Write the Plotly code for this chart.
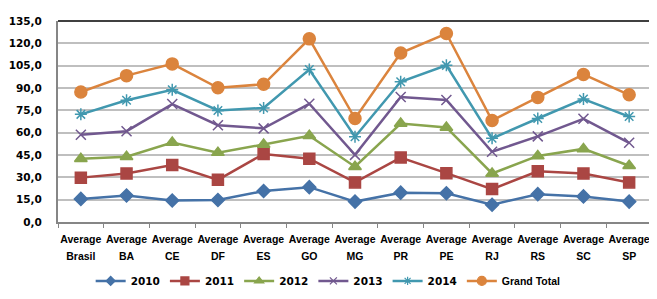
import plotly.graph_objects as go

categories = ["Average Brasil", "Average BA", "Average CE", "Average DF", "Average ES",
              "Average GO", "Average MG", "Average PR", "Average PE", "Average RJ",
              "Average RS", "Average SC", "Average SP"]

s2010 = [15.5, 17.8, 14.4, 14.8, 20.8, 23.4, 13.7, 19.7, 19.3, 11.6, 18.7, 17.2, 13.7]
s2011 = [29.8, 32.6, 38.2, 28.3, 45.7, 42.5, 26.6, 43.3, 32.8, 22.1, 34.1, 32.6, 26.6]
s2012 = [42.5, 43.8, 53.4, 46.6, 52.1, 57.9, 37.1, 66.1, 63.5, 32.6, 44.4, 49.1, 37.8]
s2013 = [58.6, 61.0, 79.2, 65.0, 62.9, 79.4, 45.1, 83.9, 82.0, 47.2, 57.5, 69.3, 53.2]
s2014 = [72.3, 81.8, 88.8, 74.9, 76.6, 102.4, 57.3, 94.2, 105.2, 56.2, 69.5, 82.6, 70.8]
grand_total = [87.3, 98.3, 106.2, 90.1, 92.5, 123.0, 69.5, 113.5, 126.6, 68.2, 83.7, 99.1, 85.4]

series_names = ["2010", "2011", "2012", "2013", "2014", "Grand Total"]
series_values = [s2010, s2011, s2012, s2013, s2014, grand_total]

y_tick_vals = [0, 15, 30, 45, 60, 75, 90, 105, 120, 135]
y_tick_text = ["0,0", "15,0", "30,0", "45,0", "60,0", "75,0", "90,0", "105,0", "120,0", "135,0"]

colors = ["#4572A7", "#AA4643", "#89A54E", "#71588F", "#4198AF", "#DB843D"]
symbols = ["diamond", "square", "triangle-up", "x-thin-open", "asterisk-open", "circle"]
sizes = [10, 11, 11, 10, 10, 12]
legend_sizes = [7, 8, 8, 7, 7, 9]

NUM_FONT = "DejaVu Sans, Verdana, sans-serif"
TXT_FONT = "Liberation Sans, Arial, sans-serif"

top_labels = [c.split(" ", 1)[0] for c in categories]
bottom_labels = [c.split(" ", 1)[1] for c in categories]

fig = go.Figure()
for name, vals, c, sym, sz in zip(series_names, series_values, colors, symbols, sizes):
    fig.add_trace(go.Scatter(
        x=categories, y=vals, name=name, mode="lines+markers", showlegend=False,
        line=dict(color=c, width=2.5),
        marker=dict(symbol=sym, size=sz, color=c, line=dict(color=c, width=1.5)),
    ))

# legend entries (small markers, like the reference legend)
for name, c, sym, sz in zip(series_names, colors, symbols, legend_sizes):
    label = name if name[0].isdigit() else \
        f'<span style="font-family:{TXT_FONT};font-weight:bold">{name}</span>'
    fig.add_trace(go.Scatter(
        x=[None], y=[None], name=label, mode="lines+markers",
        line=dict(color=c, width=2.5),
        marker=dict(symbol=sym, size=sz, color=c, line=dict(color=c, width=1.2)),
    ))

# second category axis carries the second line of the labels
fig.add_trace(go.Scatter(x=categories, y=[None] * len(categories), xaxis="x2",
                         showlegend=False, hoverinfo="skip", mode="lines"))

fig.update_layout(
    width=657, height=299,
    margin=dict(l=50, r=13, t=13, b=76),
    paper_bgcolor="white", plot_bgcolor="white",
    font=dict(family=TXT_FONT, size=11, color="#000000"),
    showlegend=True,
    legend=dict(orientation="h", x=0.055, xanchor="left", y=-0.293, yanchor="middle",
                font=dict(family=NUM_FONT, size=10.5, color="#000000", weight="bold"),
                itemwidth=30, tracegroupgap=0, bgcolor="rgba(0,0,0,0)"),
    xaxis=dict(
        type="category", categoryorder="array", categoryarray=categories,
        range=[-0.5, 12.5], automargin=False,
        tickvals=categories, ticktext=top_labels, tickangle=0,
        tickfont=dict(family=TXT_FONT, size=10.5, color="#000000", weight="bold"),
        ticks="outside", ticklen=4, tickcolor="#868686", tickwidth=1, tickson="boundaries",
        ticklabelstandoff=6,
        showline=True, linecolor="#868686", linewidth=2, showgrid=False, zeroline=False,
    ),
    xaxis2=dict(
        type="category", categoryorder="array", categoryarray=categories,
        overlaying="x", anchor="y", side="bottom", automargin=False,
        range=[-0.5, 12.5], showgrid=False, showline=False, zeroline=False,
        tickvals=categories, ticktext=bottom_labels, tickangle=0,
        ticks="", ticklabelstandoff=26,
        tickfont=dict(family=TXT_FONT, size=10.5, color="#000000", weight="bold"),
    ),
    yaxis=dict(
        range=[0, 135], tickvals=y_tick_vals, ticktext=y_tick_text, automargin=False,
        showgrid=True, gridcolor="#BFBFBF", gridwidth=1.5,
        showline=True, linecolor="#868686", linewidth=2, zeroline=False,
        ticks="", ticklabelstandoff=12,
        tickfont=dict(family=NUM_FONT, size=10.5, color="#000000", weight="bold"),
    ),
    shapes=[
        dict(type="line", xref="x domain", yref="y domain", x0=0, x1=1, y0=1, y1=1,
             line=dict(color="#404040", width=2)),
        dict(type="line", xref="x domain", yref="y domain", x0=1, x1=1, y0=0, y1=1,
             line=dict(color="#404040", width=2)),
    ],
)

fig.write_html("out.html")
